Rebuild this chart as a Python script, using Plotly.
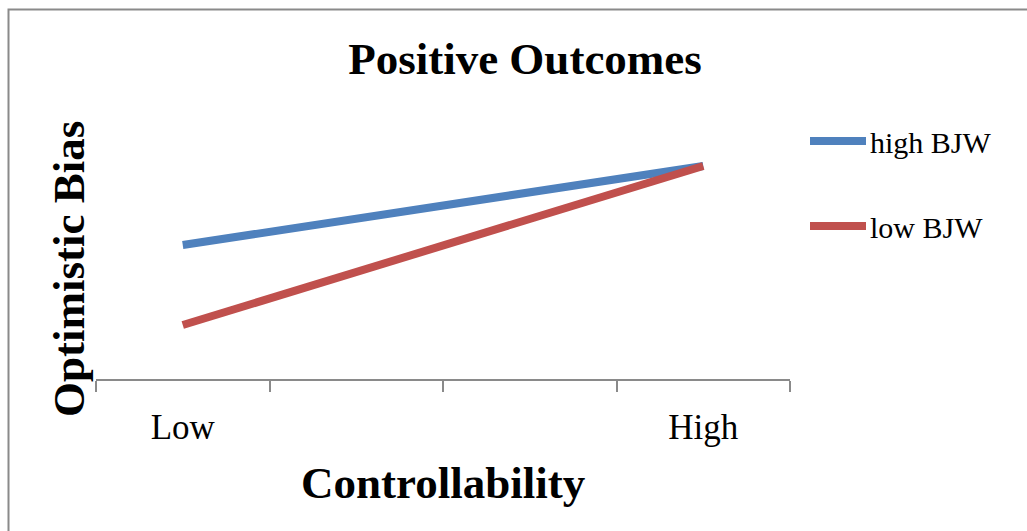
import plotly.graph_objects as go

# Category slots on the horizontal axis (only the ends carry labels)
categories = ["Low", " ", "  ", "High"]
high_bjw = [1.34, None, None, 2.13]
low_bjw = [0.54, None, None, 2.13]

series_names = ["high BJW", "low BJW"]
series_colors = ["#4F81BD", "#C0504D"]

W, H = 1027, 531
L, R, T, B = 96, 237, 129, 152
PW, PH = W - L - R, H - T - B


def px(x):
    return (x - L) / PW


def py(y):
    return (H - B - y) / PH


serif = "Liberation Serif"

fig = go.Figure()
for name, vals, col in zip(series_names, [high_bjw, low_bjw], series_colors):
    fig.add_trace(go.Scatter(
        x=categories, y=vals, name=name, mode="lines",
        connectgaps=True, line=dict(color=col, width=8),
        showlegend=False,
    ))

shapes = [
    # outer chart frame
    dict(type="rect", xref="paper", yref="paper",
         x0=px(8.5), x1=px(1040), y0=py(545), y1=py(9.5),
         line=dict(color="#8a8a8a", width=2), fillcolor="rgba(0,0,0,0)",
         layer="below"),
]
annotations = [
    dict(text="<b>Controllability</b>", xref="paper", yref="paper",
         x=px(443), y=py(483), showarrow=False,
         font=dict(family=serif, size=45, color="black"),
         xanchor="center", yanchor="middle"),
    dict(text="<b>Optimistic Bias</b>", xref="paper", yref="paper",
         x=px(69), y=py(269), showarrow=False, textangle=-90,
         font=dict(family=serif, size=45, color="black"),
         xanchor="center", yanchor="middle"),
]

# legend entries drawn as short thick strokes with labels
legend_y = [141, 226]
for name, col, ly in zip(series_names, series_colors, legend_y):
    shapes.append(dict(type="line", xref="paper", yref="paper",
                       x0=px(810), x1=px(866), y0=py(ly), y1=py(ly),
                       line=dict(color=col, width=8)))
    annotations.append(dict(text=name, xref="paper", yref="paper",
                            x=px(868), y=py(ly + 1), showarrow=False,
                            xanchor="left", yanchor="middle",
                            font=dict(family=serif, size=30, color="black")))

fig.update_layout(
    width=W, height=H,
    margin=dict(l=L, r=R, t=T, b=B, pad=0),
    paper_bgcolor="white", plot_bgcolor="white",
    title=dict(text="<b>Positive Outcomes</b>", xref="container", yref="container",
               x=525 / W, y=1 - 58 / H, xanchor="center", yanchor="middle",
               font=dict(family=serif, size=45, color="black")),
    xaxis=dict(
        type="category", categoryorder="array", categoryarray=categories,
        range=[-0.5, 3.5], tickson="boundaries",
        ticks="outside", ticklen=11, tickwidth=2, tickcolor="#8a8a8a",
        showline=True, linecolor="#8a8a8a", linewidth=2,
        showgrid=False, zeroline=False,
        tickfont=dict(family=serif, size=35, color="black"),
        ticklabelstandoff=16,
    ),
    yaxis=dict(range=[0, 2.5], showticklabels=False, showgrid=False,
               zeroline=False, showline=False, ticks=""),
    shapes=shapes, annotations=annotations,
    showlegend=False,
)

fig.write_html("out.html")
